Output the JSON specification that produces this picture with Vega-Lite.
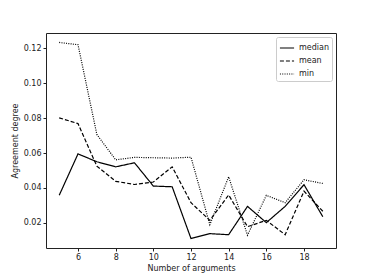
{
  "$schema": "https://vega.github.io/schema/vega-lite/v6.json",
  "autosize": "none",
  "width": 290,
  "height": 215,
  "padding": {"left": 46, "top": 33, "right": 38, "bottom": 32},
  "background": "white",
  "config": {
    "font": "DejaVu Sans",
    "view": {"stroke": "#222", "strokeWidth": 1},
    "axis": {"grid": false, "domain": false, "tickColor": "#222", "tickSize": 3, "labelFontSize": 8, "labelColor": "#222", "titleFontSize": 8, "titleFontWeight": "normal", "titleColor": "#222", "labelPadding": 2}
  },
  "data": {"values": [
    {"n": 5, "s": "median", "v": 0.0358}, {"n": 6, "s": "median", "v": 0.0595}, {"n": 7, "s": "median", "v": 0.055}, {"n": 8, "s": "median", "v": 0.0521}, {"n": 9, "s": "median", "v": 0.0544}, {"n": 10, "s": "median", "v": 0.0411}, {"n": 11, "s": "median", "v": 0.0407}, {"n": 12, "s": "median", "v": 0.0111}, {"n": 13, "s": "median", "v": 0.0139}, {"n": 14, "s": "median", "v": 0.0133}, {"n": 15, "s": "median", "v": 0.0295}, {"n": 16, "s": "median", "v": 0.0202}, {"n": 17, "s": "median", "v": 0.0295}, {"n": 18, "s": "median", "v": 0.0419}, {"n": 19, "s": "median", "v": 0.0236},
    {"n": 5, "s": "mean", "v": 0.0801}, {"n": 6, "s": "mean", "v": 0.0768}, {"n": 7, "s": "mean", "v": 0.0525}, {"n": 8, "s": "mean", "v": 0.0438}, {"n": 9, "s": "mean", "v": 0.042}, {"n": 10, "s": "mean", "v": 0.0434}, {"n": 11, "s": "mean", "v": 0.0521}, {"n": 12, "s": "mean", "v": 0.0316}, {"n": 13, "s": "mean", "v": 0.0215}, {"n": 14, "s": "mean", "v": 0.036}, {"n": 15, "s": "mean", "v": 0.0179}, {"n": 16, "s": "mean", "v": 0.0215}, {"n": 17, "s": "mean", "v": 0.0133}, {"n": 18, "s": "mean", "v": 0.0382}, {"n": 19, "s": "mean", "v": 0.0267},
    {"n": 5, "s": "min", "v": 0.1232}, {"n": 6, "s": "min", "v": 0.1219}, {"n": 7, "s": "min", "v": 0.0706}, {"n": 8, "s": "min", "v": 0.0561}, {"n": 9, "s": "min", "v": 0.0575}, {"n": 10, "s": "min", "v": 0.0573}, {"n": 11, "s": "min", "v": 0.0571}, {"n": 12, "s": "min", "v": 0.0576}, {"n": 13, "s": "min", "v": 0.019}, {"n": 14, "s": "min", "v": 0.0464}, {"n": 15, "s": "min", "v": 0.013}, {"n": 16, "s": "min", "v": 0.0358}, {"n": 17, "s": "min", "v": 0.0316}, {"n": 18, "s": "min", "v": 0.0447}, {"n": 19, "s": "min", "v": 0.0426}
  ]},
  "mark": {"type": "line", "color": "black", "strokeWidth": 1.2},
  "encoding": {
    "x": {"field": "n", "type": "quantitative", "title": "Number of arguments", "scale": {"domain": [4.3, 19.7], "nice": false, "zero": false}, "axis": {"values": [6, 8, 10, 12, 14, 16, 18], "titlePadding": 3}},
    "y": {"field": "v", "type": "quantitative", "title": "Agreement degree", "scale": {"domain": [0.0057, 0.1286], "nice": false, "zero": false}, "axis": {"values": [0.02, 0.04, 0.06, 0.08, 0.1, 0.12], "format": ".2f", "titlePadding": 4}},
    "strokeDash": {"field": "s", "type": "nominal", "title": null, "scale": {"domain": ["median", "mean", "min"], "range": [[1, 0], [4, 2], [1, 1.3]]},
      "legend": {"orient": "top-right", "offset": 4, "symbolType": "stroke", "symbolStrokeColor": "black", "symbolStrokeWidth": 1.2, "symbolSize": 200, "labelFontSize": 8, "labelColor": "#222", "fillColor": "white", "strokeColor": "#ccc", "padding": 3, "cornerRadius": 2, "rowPadding": 1, "symbolOffset": 0}}
  }
}
